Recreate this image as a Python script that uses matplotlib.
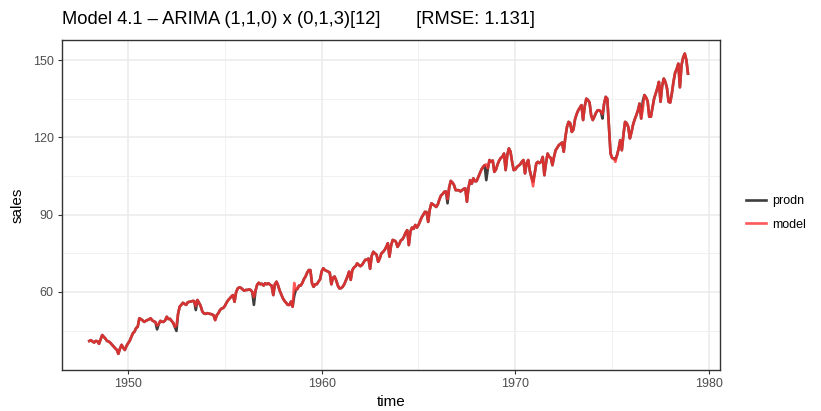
import numpy as np
import matplotlib
matplotlib.use("Agg")
import matplotlib.pyplot as plt
from matplotlib.ticker import FixedLocator, MultipleLocator

plt.rcParams["font.family"] = ["Liberation Sans", "DejaVu Sans"]

# --- DATA --------------------------------------------------------------------+

START_YEAR = 1948

prodn = [
    41.0, 41.3, 40.8, 40.4, 41.0, 40.9, 39.9, 41.6, 43.3, 42.6, 41.9, 41.0,  # 1948
    40.8, 40.3, 39.6, 38.9, 38.2, 37.6, 36.0, 38.0, 39.5, 38.4, 37.5, 39.0,  # 1949
    40.1, 41.0, 42.5, 44.0, 44.6, 46.0, 46.5, 49.8, 49.5, 49.0, 48.4, 48.8,  # 1950
    49.1, 49.4, 49.8, 49.0, 48.6, 48.3, 45.5, 47.5, 48.8, 48.5, 48.4, 49.0,  # 1951
    50.4, 49.5, 49.6, 48.8, 48.0, 46.5, 44.9, 51.5, 54.3, 55.0, 55.8, 55.4,  # 1952
    55.0, 56.0, 56.2, 56.3, 56.5, 56.5, 53.0, 56.9, 55.8, 54.6, 52.5, 51.7,  # 1953
    51.5, 51.8, 51.6, 51.5, 51.3, 51.0, 49.1, 51.0, 51.8, 53.0, 53.6, 53.8,  # 1954
    54.6, 55.8, 56.8, 57.5, 58.2, 58.8, 56.2, 60.0, 61.4, 61.8, 61.6, 61.0,  # 1955
    60.5, 60.8, 60.8, 61.0, 60.8, 60.0, 55.0, 60.5, 62.8, 63.6, 63.0, 63.2,  # 1956
    62.5, 63.4, 63.0, 63.4, 62.8, 62.5, 58.8, 63.0, 64.0, 62.5, 60.5, 59.0,  # 1957
    57.5, 56.5, 55.8, 55.0, 55.0, 56.3, 54.3, 58.5, 60.8, 61.2, 62.5, 62.5,  # 1958
    63.5, 65.0, 66.0, 67.5, 68.5, 68.5, 63.4, 62.0, 63.0, 63.0, 64.0, 64.9,  # 1959
    68.0, 69.2, 68.5, 68.2, 67.9, 67.5, 63.0, 65.5, 66.0, 64.5, 62.5, 61.4,  # 1960
    61.5, 62.0, 63.0, 64.5, 66.0, 67.9, 64.7, 68.5, 69.5, 70.0, 71.1, 70.5,  # 1961
    70.0, 70.5, 71.5, 72.5, 72.5, 73.0, 69.0, 74.0, 75.6, 75.0, 74.5, 71.7,  # 1962
    73.0, 75.0, 75.5, 76.3, 77.5, 78.9, 73.7, 78.0, 80.2, 80.0, 79.5, 77.5,  # 1963
    78.5, 80.0, 80.4, 81.5, 83.0, 84.0, 78.2, 83.5, 85.0, 84.5, 86.0, 85.0,  # 1964
    86.0, 87.5, 89.0, 90.0, 91.1, 91.0, 87.2, 92.0, 94.4, 94.0, 93.5, 93.0,  # 1965
    94.0, 96.0, 97.5, 98.0, 98.9, 99.0, 94.4, 100.5, 103.1, 102.5, 101.5, 99.5,  # 1966
    99.5, 99.5, 99.0, 99.5, 100.0, 100.2, 95.0, 100.5, 103.4, 102.0, 104.1, 103.0,  # 1967
    103.0, 104.5, 106.0, 107.5, 108.5, 109.2, 103.4, 108.0, 111.2, 110.5, 111.0, 106.6,  # 1968
    107.5, 109.5, 111.0, 112.0, 112.5, 113.7, 107.3, 113.0, 115.7, 114.5, 110.5, 107.3,  # 1969
    107.5, 108.5, 109.0, 109.5, 110.5, 111.2, 106.0, 110.0, 111.2, 107.0, 104.5, 102.8,  # 1970
    106.0, 109.9, 110.5, 110.0, 110.5, 112.4, 105.3, 110.0, 113.7, 112.5, 112.0, 109.2,  # 1971
    112.5, 115.0, 116.0, 117.0, 117.5, 118.0, 114.4, 120.0, 124.0, 126.0, 125.5, 122.1,  # 1972
    123.0, 127.0, 129.0, 130.5, 131.5, 132.5, 126.7, 132.0, 135.0, 134.5, 133.5, 128.5,  # 1973
    126.7, 128.0, 129.5, 130.5, 130.5, 130.0, 127.3, 133.0, 135.7, 135.0, 124.0, 113.7,  # 1974
    112.0, 111.8, 111.5, 113.0, 115.5, 118.9, 115.0, 121.0, 126.0, 125.5, 124.0, 119.6,  # 1975
    122.0, 125.0, 127.0, 128.6, 130.5, 133.1, 127.3, 134.0, 136.4, 135.5, 134.0, 128.0,  # 1976
    128.0, 131.5, 135.0, 137.0, 139.0, 141.5, 133.8, 140.0, 142.8, 141.5, 139.0, 133.8,  # 1977
    133.5, 137.0, 141.5, 145.0, 146.5, 148.6, 139.4, 148.0, 151.0, 152.5, 150.0, 144.7,  # 1978
]

# fitted values differ visibly from the data only at a few months
model_diff = {
    42: 47.0, 54: 47.0, 66: 54.5, 102: 58.0, 127: 63.5, 222: 96.0,
    246: 109.5, 275: 101.0, 318: 129.0, 326: 110.5, 343: 131.0,
}

series_names = ["prodn", "model"]
series_colors = ["#333333", "#FF3030"]
y_ticks = [60, 90, 120, 150]
x_ticks = [1950, 1960, 1970, 1980]

time = START_YEAR + np.arange(len(prodn)) / 12
model = list(prodn)
for i, v in model_diff.items():
    model[i] = v

# --- PLOT --------------------------------------------------------------------+

fig = plt.figure(figsize=(8.21, 4.11), dpi=100)
ax = fig.add_axes([62 / 821, 1 - 370 / 411, 658 / 821, 330 / 411])

ax.plot(time, prodn, c=series_colors[0], lw=1.9, alpha=0.95, label=series_names[0])
ax.plot(time, model, c=series_colors[1], lw=1.9, alpha=0.8, label=series_names[1])

ax.set_xlim(1946.59, 1980.57)
ax.set_ylim(29.74, 157.76)
ax.xaxis.set_major_locator(FixedLocator(x_ticks))
ax.xaxis.set_minor_locator(FixedLocator([1955, 1965, 1975]))
ax.yaxis.set_major_locator(FixedLocator(y_ticks))
ax.yaxis.set_minor_locator(FixedLocator([45, 75, 105, 135]))
ax.grid(which="major", color="#EBEBEB", lw=1.1)
ax.grid(which="minor", color="#EFEFEF", lw=0.6)
ax.set_axisbelow(True)
for s in ax.spines.values():
    s.set_color("#333333")
    s.set_linewidth(1.0)
ax.tick_params(which="major", length=3, color="#333333", labelcolor="#4D4D4D",
               labelsize=9, pad=3)
ax.tick_params(which="minor", length=0)

ax.set_xlabel("time", fontsize=11, labelpad=3)
ax.set_ylabel("sales", fontsize=11, labelpad=6)

fig.text(62 / 821, 1 - 20 / 411, "Model 4.1 \u2013 ARIMA (1,1,0) x (0,1,3)[12]       [RMSE: 1.131]",
         fontsize=13.2, va="center", ha="left")

leg = fig.legend(loc="center left", bbox_to_anchor=(735 / 821, 1 - 213 / 411),
                 frameon=False, fontsize=9, handlelength=1.6, labelspacing=0.9,
                 handletextpad=0.5)
for h in leg.get_lines():
    h.set_linewidth(1.9)

plt.savefig("out.png", dpi=100)
